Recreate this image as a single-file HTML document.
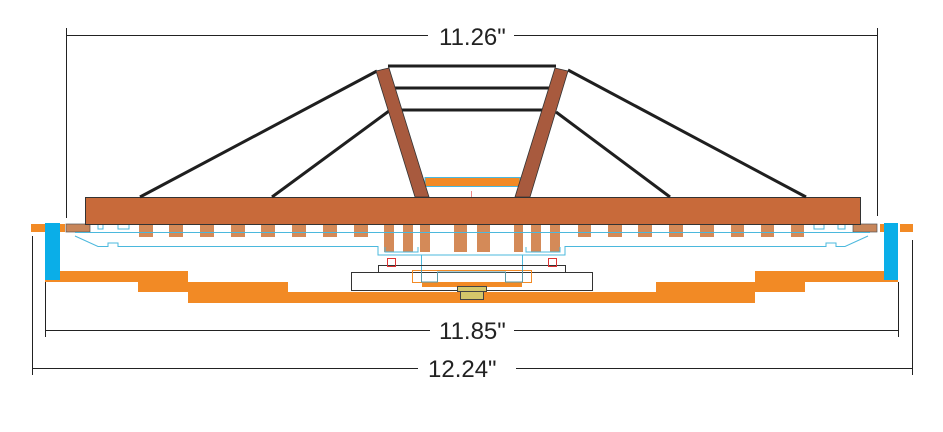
<!DOCTYPE html>
<html><head><meta charset="utf-8"><style>
html,body{margin:0;padding:0;background:#fff;}
svg{display:block;}
text{font-family:"Liberation Sans",Arial,sans-serif;font-size:24px;fill:#222;}
</style></head><body>
<svg width="943" height="432" viewBox="0 0 943 432" xmlns="http://www.w3.org/2000/svg">
<g stroke="#222" stroke-width="1" fill="none">
<line x1="66.5" y1="28" x2="66.5" y2="218"/>
<line x1="877.5" y1="28" x2="877.5" y2="216"/>
<line x1="66" y1="35.5" x2="428" y2="35.5"/>
<line x1="514" y1="35.5" x2="877" y2="35.5"/>
<line x1="45.5" y1="282" x2="45.5" y2="337"/>
<line x1="898.5" y1="282" x2="898.5" y2="337"/>
<line x1="45" y1="330.5" x2="430" y2="330.5"/>
<line x1="514" y1="330.5" x2="898" y2="330.5"/>
<line x1="32.5" y1="236" x2="32.5" y2="375"/>
<line x1="912.5" y1="240" x2="912.5" y2="375"/>
<line x1="32" y1="368.5" x2="418" y2="368.5"/>
<line x1="516" y1="368.5" x2="912" y2="368.5"/>
</g>
<text x="439" y="45">11.26"</text>
<text x="439" y="339">11.85"</text>
<text x="428" y="377">12.24"</text>

<polygon fill="#f28a25" points="45,271 188,271 188,282 288,282 288,292 656,292 656,282 755,282 755,271 898,271 898,282 805,282 805,292 755,292 755,303 188,303 188,292 138,292 138,282 45,282"/>

<rect x="31" y="224" width="14" height="8" fill="#f28a25"/>
<rect x="60" y="224" width="5" height="8" fill="#f28a25"/>
<rect x="45" y="223" width="15" height="57" fill="#0aaee8"/>
<rect x="66" y="224" width="24" height="8" fill="#c8865a" stroke="#555" stroke-width="0.7"/>
<rect x="880" y="224" width="5" height="8" fill="#f28a25"/>
<rect x="900" y="224" width="13" height="8" fill="#f28a25"/>
<rect x="884" y="223" width="14" height="57" fill="#0aaee8"/>
<rect x="853" y="224" width="24" height="8" fill="#c8865a" stroke="#555" stroke-width="0.7"/>

<g fill="#d48a58">
<rect x="139" y="224" width="14" height="13"/><rect x="169" y="224" width="14" height="13"/>
<rect x="200" y="224" width="14" height="13"/><rect x="231" y="224" width="14" height="13"/>
<rect x="261" y="224" width="14" height="13"/><rect x="292" y="224" width="14" height="13"/>
<rect x="323" y="224" width="14" height="13"/><rect x="354" y="224" width="14" height="13"/>
<rect x="384" y="224" width="10" height="28"/><rect x="403" y="224" width="10" height="28"/>
<rect x="420" y="224" width="10" height="28"/><rect x="454" y="224" width="13" height="28"/>
<rect x="477" y="224" width="13" height="28"/><rect x="514" y="224" width="9" height="28"/>
<rect x="531" y="224" width="10" height="28"/><rect x="550" y="224" width="10" height="28"/>
<rect x="578" y="224" width="13" height="13"/><rect x="608" y="224" width="14" height="13"/>
<rect x="638" y="224" width="14" height="13"/><rect x="669" y="224" width="14" height="13"/>
<rect x="700" y="224" width="14" height="13"/><rect x="731" y="224" width="13" height="13"/>
<rect x="761" y="224" width="13" height="13"/><rect x="791" y="224" width="13" height="13"/>
</g>

<g stroke="#4bb8dd" stroke-width="1" fill="none">
<polyline points="98,224 98,229 103,229 103,224"/>
<polyline points="118,224 118,229 129,229 129,224"/>
<polyline points="814,224 814,229 824,229 824,224"/>
<polyline points="838,224 838,229 845,229 845,224"/>
<line x1="75" y1="232.5" x2="870" y2="232.5"/>
<polyline points="75,236 98,246.5 108,246.5 108,243 118,243 118,246.5 378,246.5 378,255 565,255 565,246.5 826,246.5 826,243 836,243 836,246.5 845,246.5 868,236"/>
<polyline points="385,247 385,252 418,252 418,247"/>
<polyline points="526,247 526,252 560,252 560,247"/>
<line x1="421.5" y1="255" x2="421.5" y2="282"/>
<line x1="522.5" y1="255" x2="522.5" y2="282"/>
</g>

<rect x="378.5" y="265.5" width="187" height="7" fill="none" stroke="#333" stroke-width="1"/>
<rect x="387.5" y="258.5" width="8" height="8" fill="none" stroke="#d33" stroke-width="1"/>
<rect x="548.5" y="258.5" width="8" height="8" fill="none" stroke="#d33" stroke-width="1"/>
<rect x="351.5" y="272.5" width="241" height="18" fill="#fff" stroke="#333" stroke-width="1"/>
<rect x="422" y="282" width="100" height="5" fill="#f28a25"/>
<rect x="412.5" y="270.5" width="119" height="12" fill="none" stroke="#f28a25" stroke-width="1"/>
<polyline points="421.5,270 421.5,282 437.5,282 437.5,272 505.5,272 505.5,282 522.5,282 522.5,270" fill="none" stroke="#5a9aa8" stroke-width="1"/>
<rect x="460.5" y="290.5" width="23" height="9" fill="#d4c76a" stroke="#444" stroke-width="1"/>
<rect x="457.5" y="286.5" width="29" height="5" fill="#d4c76a" stroke="#444" stroke-width="1"/>

<rect x="85.5" y="197.5" width="775" height="27" fill="#c86a3a" stroke="#333" stroke-width="1"/>

<rect x="425" y="177.5" width="95" height="9" fill="#f28a25" stroke="#4bb8dd" stroke-width="1"/>
<line x1="471.5" y1="191" x2="471.5" y2="197" stroke="#e88" stroke-width="1"/>

<g stroke="#1f1f1f" stroke-width="3" fill="none">
<line x1="377" y1="71" x2="140" y2="197"/>
<line x1="389" y1="111" x2="272" y2="197"/>
<line x1="568" y1="70" x2="806" y2="197"/>
<line x1="556" y1="112" x2="670" y2="197"/>
<line x1="388" y1="66" x2="556" y2="66"/>
<line x1="392" y1="88" x2="551" y2="88"/>
<line x1="402" y1="110" x2="543" y2="110"/>
</g>

<polygon points="376,71 389,68 429,197 415,197" fill="#a85a3e" stroke="#333" stroke-width="0.8"/>
<polygon points="555,68 568,71 530,197 515,197" fill="#a85a3e" stroke="#333" stroke-width="0.8"/>
</svg>
</body></html>
